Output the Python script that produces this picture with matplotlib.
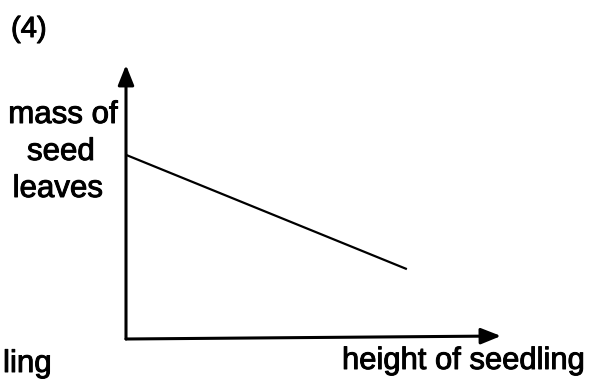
import matplotlib.pyplot as plt
import matplotlib.patheffects as pe

plt.rcParams['font.family'] = ['Liberation Sans', 'DejaVu Sans']

# sketch graph: mass of seed leaves falls as seedling height grows
height = [0.0, 7.49]
mass = [6.72, 2.55]

fig = plt.figure(figsize=(5.89, 3.79), dpi=100)
W, H = 589, 379

# axes box = from origin to arrow tips (pixel positions of the reference)
x0, y0, x1, y1 = 126, 339, 501, 65
ax = fig.add_axes([x0/W, (H-y0)/H, (x1-x0)/W, (y0-y1)/H])
ax.set_xlim(0, 10)
ax.set_ylim(0, 10)
ax.axis('off')

ax.plot(height, mass, color='black', lw=1.6, solid_capstyle='butt')

# axis arrows (x axis rises a touch in the scan)
arr = dict(arrowstyle='-|>,head_length=0.55,head_width=0.22', color='black',
           lw=2.2, mutation_scale=22, shrinkA=0, shrinkB=0)
ax.annotate('', xy=(0, 1), xytext=(0, 0), xycoords='axes fraction', arrowprops=arr)
ax.annotate('', xy=(1, 3/(y0-y1)), xytext=(0, 0), xycoords='axes fraction', arrowprops=arr)

heavy = [pe.withStroke(linewidth=0.7, foreground='black')]
fs = 22.5
fig.text(11/W, 1-37/H, '(4)', fontsize=21, ha='left', va='baseline', path_effects=heavy)
fig.text(63/W, 1-123/H, 'mass of', fontsize=fs, ha='center', va='baseline', path_effects=heavy)
fig.text(61/W, 1-160/H, 'seed', fontsize=fs, ha='center', va='baseline', path_effects=heavy)
fig.text(58/W, 1-197/H, 'leaves', fontsize=fs, ha='center', va='baseline', path_effects=heavy)
fig.text(342/W, 1-369/H, 'height of seedling', fontsize=22.3, ha='left', va='baseline', path_effects=heavy)
fig.text(3/W, 1-372/H, 'ling', fontsize=fs, ha='left', va='baseline', path_effects=heavy)

fig.savefig('out.png', dpi=100)
